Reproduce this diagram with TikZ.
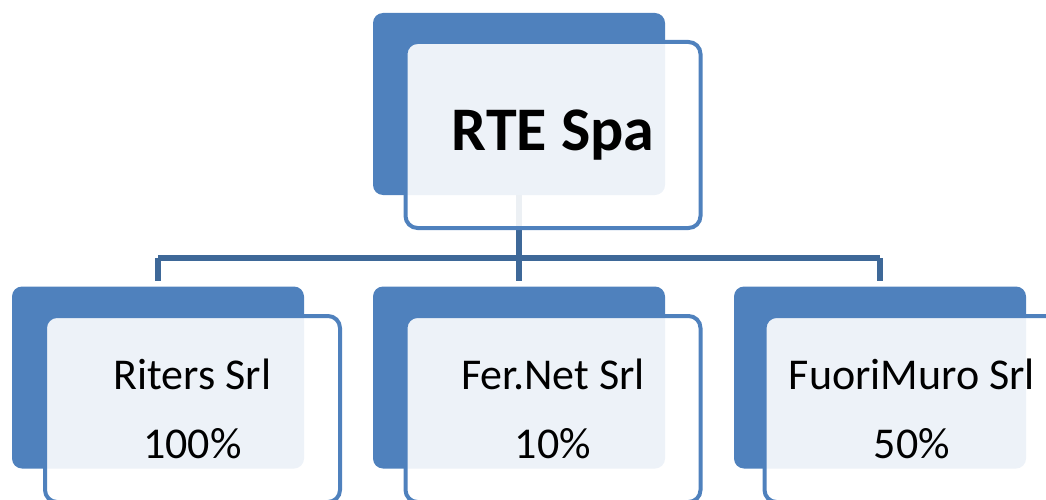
\documentclass[tikz,border=0pt]{standalone}
\usepackage{fontspec}
\setmainfont{Carlito}
\definecolor{accent}{RGB}{79,129,189}
\definecolor{linkblue}{RGB}{62,104,152}
\tikzset{
  backbox/.style={fill=accent,rounded corners=10pt,minimum width=292pt,minimum height=182pt,inner sep=0pt},
  frontbox/.style={draw=accent,line width=4pt,fill=white,fill opacity=0.9,text opacity=1,rounded corners=12pt,
    minimum width=295pt,minimum height=186pt,align=center,inner sep=0pt},
  link/.style={draw=linkblue,line width=6.5pt}
}
\begin{document}
\begin{tikzpicture}[x=1pt,y=-1pt]
  \useasboundingbox (0,0) rectangle (1046,500);
  \clip (0,0) rectangle (1046,500);
  % Rückseiten
  \node[backbox] (rteBack) at (519,104) {};
  \foreach \nm/\x in {rit/158,fer/519,fuo/880}
    \node[backbox] (\nm Back) at (\x,377.5) {};
  % Verbindungen
  \coordinate (bus) at (519,258);
  \draw[link] (rteBack.south) -- (rteBack.south |- bus);
  \draw[link] (ritBack.north |- bus) -- (fuoBack.north |- bus);
  \foreach \nm in {rit,fer,fuo}
    \draw[link,shorten >=5pt] (\nm Back.north |- bus) -- (\nm Back.north);
  % Vorderseiten
  \node[frontbox,font=\fontsize{62}{74}\selectfont\bfseries] (rte) at (553,135) {RTE Spa};
  \foreach \nm/\x/\firma/\anteil in {rit/192.5/Riters Srl/100\%,fer/553/Fer.Net Srl/10\%,fuo/912/FuoriMuro Srl/50\%}
    \node[frontbox,font=\fontsize{44}{69}\selectfont] (\nm) at (\x,409) {\firma\\\anteil};
\end{tikzpicture}
\end{document}
